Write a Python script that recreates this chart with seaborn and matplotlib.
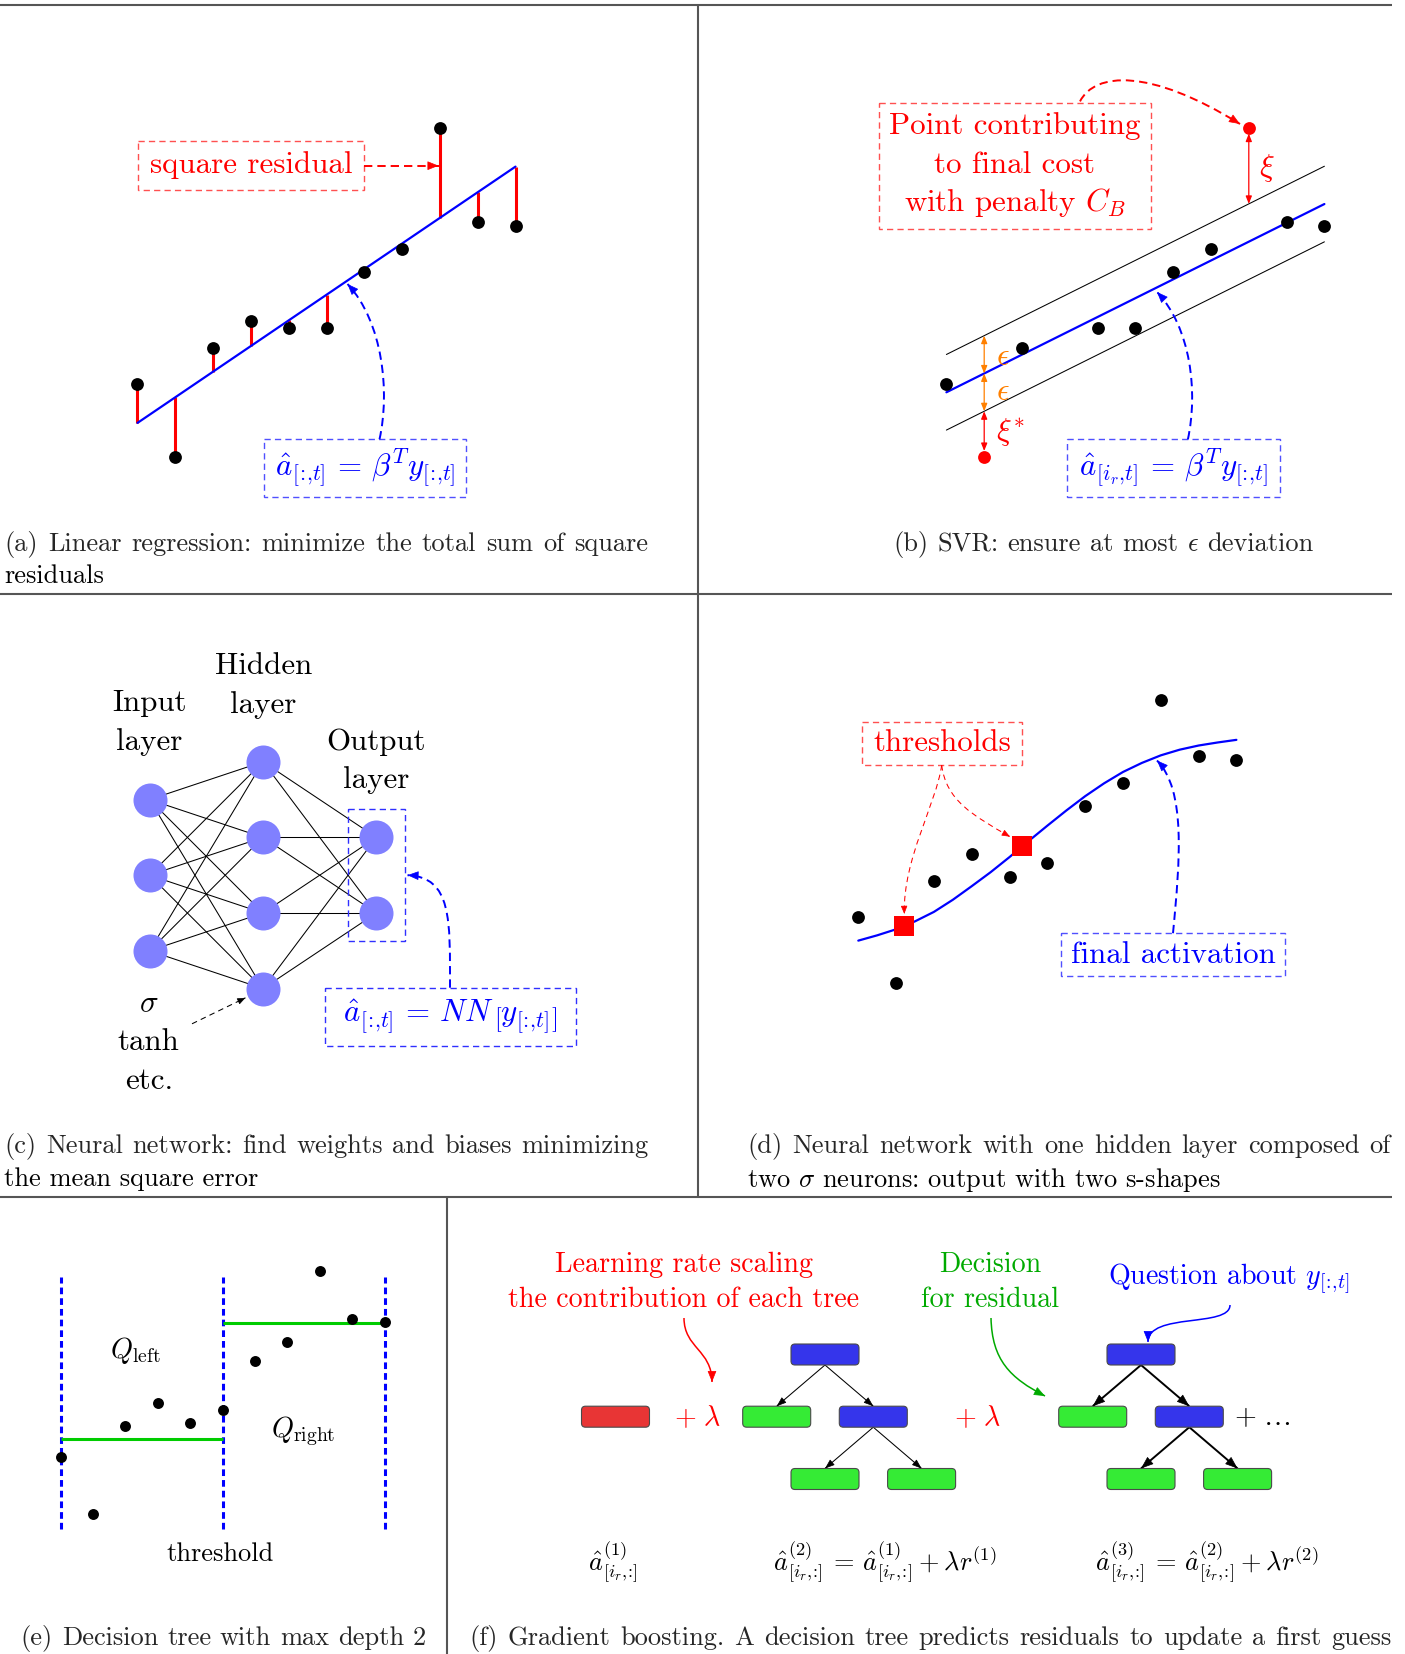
import numpy as np
import matplotlib
matplotlib.use("Agg")
import matplotlib.pyplot as plt
import seaborn as sns
from matplotlib.patches import Rectangle, FancyBboxPatch, PathPatch
from matplotlib.path import Path

sns.set_theme(style="white")
plt.rcParams["font.family"] = ["cmr10", "DejaVu Serif"]
plt.rcParams["mathtext.fontset"] = "cm"
plt.rcParams["axes.formatter.use_mathtext"] = True
plt.rcParams["axes.unicode_minus"] = False
plt.rcParams["lines.scale_dashes"] = False

W, H = 1405, 1654

# ---------------- data ----------------
# (a) linear regression sample and fitted line (intercept, slope)
reg_x = np.arange(11)
reg_y = np.array([1.04, -0.89, 1.99, 2.70, 2.51, 2.51, 4.00, 4.61, 7.80, 5.31, 5.21])
reg_line = (0.0, 0.678)

# (b) SVR tube (intercept, slope), half-width and which samples fall outside
svr_line = (0.81, 0.498)
svr_eps = 1.0
svr_inside = [0, 2, 4, 5, 6, 7, 9, 10]
svr_outside = [1, 8]

# (c) network layout
nn_layers = [3, 4, 2]

# (d) samples, network output and the two sigmoid thresholds
nn_x = np.arange(11)
nn_y = np.array([1.04, -0.71, 1.99, 2.70, 2.09, 2.48, 3.99, 4.60, 6.78, 5.30, 5.20])
act_x = np.arange(0, 10.5, 0.5)
act_y = np.array([0.42, 0.56, 0.72, 0.93, 1.18, 1.50, 1.86, 2.23, 2.63, 3.05, 3.46,
                  3.86, 4.24, 4.58, 4.88, 5.12, 5.32, 5.47, 5.58, 5.66, 5.73])
thr_x = np.array([1.22, 4.33])
thr_y = np.array([0.81, 2.93])

# (e) decision tree split
tree_x = np.arange(11)
tree_y = np.array([1.04, -0.70, 2.01, 2.71, 2.10, 2.50, 4.01, 4.61, 6.80, 5.31, 5.21])
tree_bounds = [0, 5, 10]

# (f) boosting trees: (column offset, level, kind) and parent->child edges
gb_nodes = [(0, 0, "q"), (-1, 1, "d"), (1, 1, "q"), (0, 2, "d"), (2, 2, "d")]
gb_edges = [(0, 1), (0, 2), (2, 3), (2, 4)]

# index notation used in the formulas
IDX = r"[\!:\!{,}t]"
IDR = r"[i_r{,}\!:\!]"

# ---------------- figure ----------------
fig = plt.figure(figsize=(W / 100, H / 100), dpi=100)
panels = []


def panel_axes(cell, origin, scale):
    x0, y0, x1, y1 = cell
    ox, oy = origin
    ax = fig.add_axes([x0 / W, 1 - y1 / H, (x1 - x0) / W, (y1 - y0) / H])
    lims = (((x0 - ox) / scale, (x1 - ox) / scale), ((oy - y1) / scale, (oy - y0) / scale))
    panels.append((ax, lims))
    ax.set_axis_off()
    ax.patch.set_alpha(0)
    return ax


DOT = 85

# (a) linear regression
ax_a = panel_axes((0, 5, 698, 594), (137.5, 422.9), 37.8)
fit_a = reg_line[0] + reg_line[1] * reg_x
ax_a.vlines(reg_x, fit_a, reg_y, color="red", lw=2.2, zorder=2)
ax_a.plot(reg_x[[0, -1]], fit_a[[0, -1]], color="blue", lw=1.6, zorder=3)
sns.scatterplot(x=reg_x, y=reg_y, ax=ax_a, color="black", s=DOT, linewidth=0, zorder=4, legend=False)

# (b) support vector regression
ax_b = panel_axes((698, 5, 1392, 594), (946.4, 422.9), 37.8)
ends = reg_x[[0, -1]]
centre = svr_line[0] + svr_line[1] * ends
ax_b.plot(ends, centre, color="blue", lw=1.6, zorder=3)
ax_b.plot(ends, centre + svr_eps, color="black", lw=0.75, zorder=2)
ax_b.plot(ends, centre - svr_eps, color="black", lw=0.75, zorder=2)
sns.scatterplot(x=reg_x[svr_inside], y=reg_y[svr_inside], ax=ax_b, color="black", s=DOT,
                linewidth=0, zorder=4, legend=False)
sns.scatterplot(x=reg_x[svr_outside], y=reg_y[svr_outside], ax=ax_b, color="red", s=DOT,
                linewidth=0, zorder=4, legend=False)


def dbl_arrow(ax, x, ya, yb, color, shA=0, shB=0):
    ax.annotate("", xy=(x, yb), xytext=(x, ya),
                arrowprops=dict(arrowstyle="<|-|>,head_length=4.5,head_width=1.8", mutation_scale=1,
                                color=color, lw=0.9, shrinkA=shA, shrinkB=shB), zorder=5)


xl, xh = svr_outside
cl = svr_line[0] + svr_line[1] * reg_x[xl]
ch = svr_line[0] + svr_line[1] * reg_x[xh]
dbl_arrow(ax_b, reg_x[xl], cl, cl + svr_eps, "#FF8000")
dbl_arrow(ax_b, reg_x[xl], cl, cl - svr_eps, "#FF8000")
dbl_arrow(ax_b, reg_x[xl], cl - svr_eps, reg_y[xl], "red", shB=4)
dbl_arrow(ax_b, reg_x[xh], reg_y[xh], ch + svr_eps, "red", shA=4)

# (c) neural network
ax_c = panel_axes((0, 594, 698, 1197), (149.6, 875.2), 37.8)
layer_pos = []
for i, n in enumerate(nn_layers):
    ys = (n - 1) - 2 * np.arange(n)
    layer_pos.append((np.full(n, 3.0 * i), ys.astype(float)))
for (xa, ya), (xb, yb) in zip(layer_pos[:-1], layer_pos[1:]):
    for p, q in zip(xa, ya):
        for r, s in zip(xb, yb):
            ax_c.plot([p, r], [q, s], color="black", lw=0.75, zorder=1)
node_x = np.concatenate([p[0] for p in layer_pos])
node_y = np.concatenate([p[1] for p in layer_pos])
sns.scatterplot(x=node_x, y=node_y, ax=ax_c, color="#8080FF", s=600, linewidth=0, zorder=3, legend=False)

# (d) one hidden layer with two sigmoid neurons
ax_d = panel_axes((698, 594, 1392, 1197), (858.3, 956.5), 37.81)
ax_d.plot(act_x, act_y, color="blue", lw=1.6, zorder=2)
sns.scatterplot(x=nn_x, y=nn_y, ax=ax_d, color="black", s=DOT, linewidth=0, zorder=4, legend=False)
ax_d.scatter(thr_x, thr_y, marker="s", s=205, color="red", linewidths=0, zorder=5)

# (e) decision tree split
ax_e = panel_axes((0, 1197, 447, 1654), (60.7, 1491), 32.4)
ax_e.vlines(tree_bounds, -1.18, 6.61, color="blue", lw=2.2, linestyles=[(0, (4.8, 2.9))], zorder=2)
split = tree_bounds[1]
left_mean = tree_y[tree_x <= split].mean()
right_mean = tree_y[tree_x > split].mean()
ax_e.hlines(left_mean, tree_bounds[0], split, color="#00CC00", lw=2.2, zorder=3)
ax_e.hlines(right_mean, split, tree_bounds[2], color="#00CC00", lw=2.2, zorder=3)
sns.scatterplot(x=tree_x, y=tree_y, ax=ax_e, color="black", s=62, linewidth=0, zorder=4, legend=False)

for ax, (xlim, ylim) in panels:
    ax.set_xlim(*xlim)
    ax.set_ylim(*ylim)

# ---------------- overlay in pixel units ----------------
ov = fig.add_axes([0, 0, 1, 1], zorder=10)
ov.set_xlim(0, W)
ov.set_ylim(H, 0)
ov.set_axis_off()
ov.patch.set_alpha(0)

FRAME = "#555555"
for (x0, y0, x1, y1) in [(0, 5, 1392, 5), (0, 594, 1392, 594), (0, 1197, 1392, 1197),
                         (698, 5, 698, 1197), (447, 1197, 447, 1654)]:
    ov.plot([x0, x1], [y0, y1], color=FRAME, lw=1.5, solid_capstyle="butt")

BIG = 22.3
MID = 20.2
CAP = 19.0
BOX_DASH = (0, (4.5, 3.0))
ARR_DASH = (0, (6.0, 3.6))


def label(x, y, s, size, color="black", ha="center"):
    return ov.text(x, y, s, fontsize=size, color=color, ha=ha, va="center")


def dashed_box(x0, y0, x1, y1, color, lw=1.0):
    ov.add_patch(Rectangle((x0, y0), x1 - x0, y1 - y0, fill=False, ec=color, lw=lw, ls=BOX_DASH))


def arrow(pts, color, lw, dash=None, hl=7.0, hw=2.8):
    pts = np.asarray(pts, float)
    if len(pts) == 4:
        codes = [Path.MOVETO, Path.CURVE4, Path.CURVE4, Path.CURVE4]
    else:
        codes = [Path.MOVETO, Path.LINETO]
    ov.add_patch(PathPatch(Path(pts, codes), fc="none", ec=color, lw=lw,
                           ls=dash if dash else "-", capstyle="butt"))
    tip = pts[-1]
    d = tip - pts[-2]
    d = d / np.hypot(*d)
    ov.annotate("", xy=tip, xytext=tip - 2 * d,
                arrowprops=dict(arrowstyle=f"-|>,head_length={hl},head_width={hw}", mutation_scale=1,
                                color=color, lw=0.5, shrinkA=0, shrinkB=0))


renderer = fig.canvas.get_renderer()


def justified(text, x0, x1, y, size):
    words = text.split(" ")
    objs = [ov.text(x0, y, w, fontsize=size, ha="left", va="center") for w in words]
    widths = [o.get_window_extent(renderer).width for o in objs]
    gap = (x1 - x0 - sum(widths)) / (len(words) - 1)
    x = x0
    for o, w in zip(objs, widths):
        o.set_x(x)
        x += w + gap


# (a) annotations
dashed_box(138.4, 140.8, 363.8, 190.2, "#FF5050")
label(251, 165.5, "square residual", BIG, "red")
arrow([(363.8, 165.7), (438.5, 165.7)], "red", 1.4, ARR_DASH)
dashed_box(264.3, 439.3, 465.6, 496.8, "#5050FF")
label(365, 468, rf"$\hat{{a}}_{{{IDX}}} \,=\, \beta^T y_{{{IDX}}}$", BIG, "blue")
arrow([(379.5, 439.3), (390, 392), (383, 322), (347.5, 284)], "blue", 1.4, ARR_DASH)
justified("(a) Linear regression: minimize the total sum of square", 4.5, 648, 544.5, CAP)
label(4.5, 576, "residuals", CAP, ha="left")

# (b) annotations
dashed_box(879, 102.6, 1150.5, 228.9, "#FF5050")
label(1014.7, 126.3, "Point contributing", BIG, "red")
label(1014.7, 164.6, "to final cost", BIG, "red")
label(1014.7, 202.8, r"with penalty $C_B$", BIG, "red")
arrow([(1080, 101.4), (1095, 72), (1150, 68), (1240, 124)], "red", 1.4, ARR_DASH)
label(996.5, 356.7, r"$\epsilon$", BIG, "#FF8000", ha="left")
label(996.5, 391.7, r"$\epsilon$", BIG, "#FF8000", ha="left")
label(995.5, 433.3, r"$\xi^{*}$", BIG, "red", ha="left")
label(1259, 168, r"$\xi$", BIG, "red", ha="left")
dashed_box(1066.5, 439.3, 1280, 496.8, "#5050FF")
label(1173, 468, rf"$\hat{{a}}_{{[i_r{{,}}t]}} \,=\, \beta^T y_{{{IDX}}}$", BIG, "blue")
arrow([(1187.9, 439.3), (1198, 392), (1191, 328), (1157, 292)], "blue", 1.4, ARR_DASH)
justified(r"(b) SVR: ensure at most $\epsilon$ deviation", 893.3, 1313.8, 544.5, CAP)

# (c) annotations
label(149.6, 702.8, "Input", BIG)
label(149.6, 741.8, "layer", BIG)
label(263.4, 665.9, "Hidden", BIG)
label(263.4, 704.8, "layer", BIG)
label(376.3, 741.8, "Output", BIG)
label(376.3, 779.9, "layer", BIG)
label(148.7, 1004.4, r"$\sigma$", BIG)
label(148.7, 1042.5, "tanh", BIG)
label(148.7, 1081.4, "etc.", BIG)
arrow([(192, 1023.8), (245.5, 997.8)], "black", 0.75, (0, (4, 3)), hl=5.0, hw=2.0)
dashed_box(348.2, 808.7, 404.5, 941.4, "#3030FF")
dashed_box(324.6, 987.7, 575.9, 1046, "#3030FF")
label(450, 1017, rf"$\hat{{a}}_{{{IDX}}} \,=\, NN\,\left[y_{{{IDX}}}\right]$", BIG, "blue")
arrow([(450, 987.7), (450, 920), (452, 877), (407.5, 875.2)], "blue", 1.4, ARR_DASH)
justified("(c) Neural network: find weights and biases minimizing", 4.5, 648, 1146.5, CAP)
label(4.5, 1179.5, "the mean square error", CAP, ha="left")

# (d) annotations
dashed_box(861.9, 721.5, 1021.9, 765.1, "#FF5050")
label(941.9, 743, "thresholds", BIG, "red")
arrow([(941.7, 765.1), (936, 805), (903, 858), (904.3, 914)], "red", 0.75, (0, (4, 3)), hl=5.0, hw=2.0)
arrow([(941.7, 765.1), (946, 800), (972, 815), (1010, 836.7)], "red", 0.75, (0, (4, 3)), hl=5.0, hw=2.0)
dashed_box(1061, 933.2, 1285.4, 976, "#5050FF")
label(1173, 954.6, "final activation", BIG, "blue")
arrow([(1173, 933.2), (1180, 860), (1186, 790), (1157, 760.5)], "blue", 1.4, ARR_DASH)
justified("(d) Neural network with one hidden layer composed of", 747.2, 1391, 1146.5, CAP)
label(747.2, 1179.5, r"two $\sigma$ neurons: output with two s-shapes", CAP, ha="left")

# (e) annotations
label(135, 1350, r"$Q_{\mathrm{left}}$", MID)
label(303.3, 1431.7, r"$Q_{\mathrm{right}}$", MID)
label(220, 1554.3, "threshold", CAP)
justified("(e) Decision tree with max depth 2", 20.7, 426, 1638.3, CAP)

# (f) gradient boosting
BOX_W, BOX_H, UNIT = 68, 21, 48.3
LEVEL_Y = [1354.5, 1416.7, 1479.0]
FILL = {"first": "#E83535", "q": "#3535EB", "d": "#35EB35"}


def node_box(cx, cy, kind):
    ov.add_patch(FancyBboxPatch((cx - BOX_W / 2, cy - BOX_H / 2), BOX_W, BOX_H,
                                boxstyle="round,pad=0,rounding_size=4", fc=FILL[kind],
                                ec="#4a4a4a", lw=0.8, zorder=3))


node_box(615.5, LEVEL_Y[1], "first")
for root_x, lw, hl, hw in [(825, 0.75, 6.0, 2.2), (1141, 1.4, 8.0, 3.0)]:
    for col, lev, kind in gb_nodes:
        node_box(root_x + col * UNIT, LEVEL_Y[lev], kind)
    for a, b in gb_edges:
        ca, la, _ = gb_nodes[a]
        cb, lb, _ = gb_nodes[b]
        arrow([(root_x + ca * UNIT, LEVEL_Y[la] + BOX_H / 2),
               (root_x + cb * UNIT, LEVEL_Y[lb] - BOX_H / 2)], "black", lw, None, hl=hl, hw=hw)

label(697.3, 1418.3, r"$+\ \lambda$", MID, "red")
label(977.8, 1418.3, r"$+\ \lambda$", MID, "red")
label(1262.5, 1418.3, r"$+\ \ldots$", MID)

label(683.8, 1265, "Learning rate scaling", MID, "red")
label(683.8, 1300, "the contribution of each tree", MID, "red")
arrow([(684, 1318), (684, 1348), (712, 1350), (712, 1382)], "red", 1.1)
label(990, 1265, "Decision", MID, "#00AA00")
label(990, 1300, "for residual", MID, "#00AA00")
arrow([(991, 1318), (992, 1360), (1010, 1378), (1045, 1396)], "#00AA00", 1.1)
label(1228.8, 1278.3, rf"Question about $y_{{{IDX}}}$", MID, "blue")
arrow([(1230, 1305), (1230, 1328), (1148, 1312), (1148, 1342)], "blue", 1.1)

label(613.4, 1561.7, rf"$\hat{{a}}^{{(1)}}_{{{IDR}}}$", CAP)
label(885, 1561.7,
      rf"$\hat{{a}}^{{(2)}}_{{{IDR}}} \,=\, \hat{{a}}^{{(1)}}_{{{IDR}}} + \lambda r^{{(1)}}$", CAP)
label(1207, 1561.7,
      rf"$\hat{{a}}^{{(3)}}_{{{IDR}}} \,=\, \hat{{a}}^{{(2)}}_{{{IDR}}} + \lambda r^{{(2)}}$", CAP)
justified("(f) Gradient boosting. A decision tree predicts residuals to update a first guess",
          469.5, 1391, 1638.3, CAP)

fig.savefig("out.png", dpi=100, facecolor="white")
